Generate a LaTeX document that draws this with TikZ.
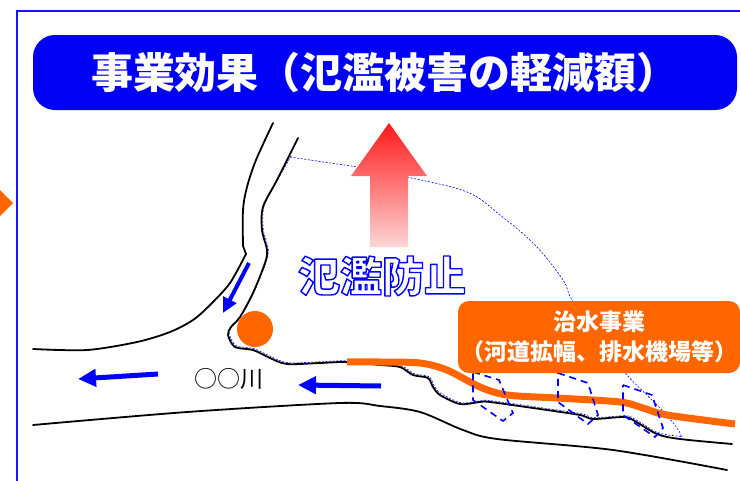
\documentclass[tikz,border=0pt]{standalone}
\usepackage{fontspec}
\newfontfamily\jp{Noto Sans CJK JP}
\usetikzlibrary{arrows.meta}

\definecolor{frameblue}{RGB}{20,20,255}
\definecolor{titleblue}{RGB}{0,0,245}
\definecolor{floodblue}{RGB}{0,0,255}
\definecolor{works}{RGB}{255,102,0}
\definecolor{arrowtop}{RGB}{255,25,25}
\definecolor{arrowbottom}{RGB}{252,214,214}

% text drawn as a blue glyph outline (PDF text render mode 1)
\newcommand\hollowtext[1]{%
  \leavevmode
  \special{pdf:code q 1 Tr 1.4 w 0 0 1 RG 1 J 1 j}%
  #1%
  \special{pdf:code Q}}

\tikzset{
  bank/.style={black, line width=1.8pt, line join=round, line cap=round},
  boundary/.style={floodblue, line width=0.6pt, dash pattern=on 2pt off 1.6pt},
  cutzone/.style={floodblue, line width=1.6pt, dash pattern=on 7pt off 5pt, line join=miter},
  flowarrow/.style={floodblue, line width=5pt, -{Triangle[length=18pt,width=17pt]}},
  sidearrow/.style={floodblue, line width=4pt, -{Triangle[length=15pt,width=14pt]}},
  worksline/.style={works, line width=7pt},
  titlebox/.style={fill=titleblue, rounded corners=22pt, minimum width=704pt,
    minimum height=75pt, inner sep=0pt, text=white,
    font=\jp\bfseries\fontsize{42}{42}\selectfont},
  worksbox/.style={fill=works, rounded corners=11pt, minimum width=282pt,
    minimum height=72pt, inner sep=0pt, text=white, align=center,
    font=\jp\bfseries\fontsize{23}{30}\selectfont},
}

\begin{document}
\begin{tikzpicture}[x=1pt,y=-1pt]
\useasboundingbox (0,0) rectangle (740,480);
\clip (0,0) rectangle (740,480);
\fill[white] (0,0) rectangle (740,480);

% panel frame and the pointer on its left side
\draw[frameblue, line width=2.2pt] (742,11) -- (17,11) -- (17,482);
\fill[works] (13,203) -- (-12,178) -- (-12,228) -- cycle;

% heading
\node[titlebox] (title) at (385,72.5) {事業効果（氾濫被害の軽減額）};

% limit of the flooded area
\draw[boundary] plot[smooth, tension=0.6] coordinates {
  (290,157) (330,163) (357,167) (407,177) (467,192) (500,215) (535,245)
  (563,280) (572,300) (600,340) (627,375) (660,408) (677,428) (682,438)};
\begin{scope}[xshift=1.2pt, yshift=1.3pt]
\draw[boundary] plot[smooth, tension=0.5] coordinates {
  (290,157) (277,180) (263,207) (262,230) (267,250) (265,263) (253,293)
  (240,317) (231,327) (228,335) (235,347) (253,350) (270,358) (287,364)
  (320,363) (347,362) (380,365) (400,367) (413,375) (428,378) (433,387)
  (440,395) (460,404) (480,402) (490,402) (540,409) (580,415) (593,419)
  (623,417) (633,420) (657,434) (682,438)};
\end{scope}

% river banks
\draw[bank] plot[smooth, tension=0.5] coordinates {
  (33,349) (87,350) (137,342) (170,332) (193,320) (210,305) (230,283) (246,254)}
  -- plot[smooth, tension=0.5] coordinates {
  (243,246) (243,210) (247,187) (256,160) (273,123)};
\draw[bank] plot[smooth, tension=0.5] coordinates {
  (298,138) (277,180) (263,207) (262,230) (267,250) (265,263) (253,293)
  (240,317) (231,327) (228,335) (235,347) (253,350) (270,358) (287,364)
  (320,363) (347,362) (380,365) (400,367) (413,375) (428,378) (433,387)
  (440,395) (460,404) (480,402) (490,402) (540,409) (580,415) (593,419)
  (623,417) (633,420) (657,434) (680,439) (732,444)};
\draw[bank] plot[smooth, tension=0.5] coordinates {
  (33,425) (187,412) (340,403) (380,406) (420,412) (463,430) (497,439)
  (613,450) (727,470)};

% upward arrow
\shade[top color=arrowtop, bottom color=arrowbottom]
  (389,123) -- (427,176) -- (408,176) -- (408,247) -- (370,247) -- (370,176)
  -- (351,176) -- cycle;

% flood-control works along the river
\draw[worksline] plot[smooth, tension=0.5] coordinates {
  (347,362) (380,362) (420,363) (447,370) (480,387) (507,395) (557,398)
  (620,402) (643,408) (667,415) (735,424)};

% excavation sections
\draw[cutzone] (473,372) -- (499,380) -- (513,413) -- (503,421) -- (473,400) -- cycle;
\draw[cutzone] (558,373) -- (588,383) -- (598,415) -- (588,424) -- (558,402) -- cycle;
\draw[cutzone] (623,385) -- (652,395) -- (663,428) -- (655,437) -- (623,415) -- cycle;

% confluence point
\fill[works] (255,329) circle (18);

% flow directions
\coordinate (tribA) at (249,263);
\coordinate (tribB) at (223,313);
\coordinate (flowA1) at (158,374);
\coordinate (flowA2) at (78,379);
\coordinate (flowB1) at (381,386);
\coordinate (flowB2) at (298,385);
\draw[sidearrow] (tribA) -- (tribB);
\draw[flowarrow] (flowA1) -- (flowA2);
\draw[flowarrow] (flowB1) -- (flowB2);

% labels
\node[inner sep=0pt, font=\jp\bfseries\fontsize{42}{42}\selectfont] (flood) at (382,276)
  {\hollowtext{氾濫防止}};
\node[inner sep=0pt, font=\jp\fontsize{23}{23}\selectfont] (river) at (229,379) {○○川};
\node[worksbox] (works) at (599,337) {治水事業\\（河道拡幅、排水機場等）};
\end{tikzpicture}
\end{document}
